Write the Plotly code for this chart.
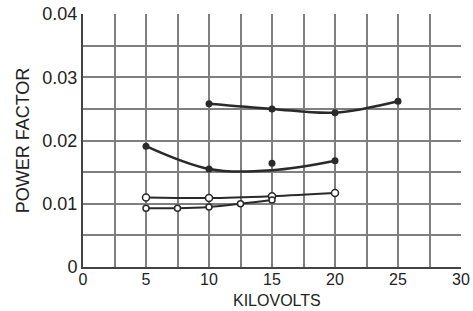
import plotly.graph_objects as go

# ---- data ----
x_top = [10, 15, 20, 25]
y_top = [0.0258, 0.0250, 0.0244, 0.0262]

x_mid_curve = [5, 10, 15, 20]
y_mid_curve = [0.0191, 0.0155, 0.0153, 0.0168]
x_mid_pts = [5, 10, 15, 20]
y_mid_pts = [0.0191, 0.0155, 0.0164, 0.0168]

x_open_a = [5, 10, 15, 20]
y_open_a = [0.0110, 0.0109, 0.0112, 0.0117]

x_open_b = [5, 7.5, 10, 12.5, 15]
y_open_b = [0.0093, 0.0093, 0.0095, 0.0100, 0.0106]

x_ticks = [0, 2.5, 5, 7.5, 10, 12.5, 15, 17.5, 20, 22.5, 25, 27.5, 30]
x_labels = ["0", "", "5", "", "10", "", "15", "", "20", "", "25", "", "30"]
y_ticks = [0, 0.005, 0.01, 0.015, 0.02, 0.025, 0.03, 0.035, 0.04]
y_labels = ["0", "", "0.01", "", "0.02", "", "0.03", "", "0.04"]

ink = "#2a2a2a"
grid = "#7f7f7f"

fig = go.Figure()
fig.add_trace(go.Scatter(x=x_top, y=y_top, mode="lines+markers", line=dict(color=ink, width=2.5, shape="spline"),
                         marker=dict(size=7, color=ink)))
fig.add_trace(go.Scatter(x=x_mid_curve, y=y_mid_curve, mode="lines", line=dict(color=ink, width=2.5, shape="spline")))
fig.add_trace(go.Scatter(x=x_mid_pts, y=y_mid_pts, mode="markers", marker=dict(size=7, color=ink)))
fig.add_trace(go.Scatter(x=x_open_a, y=y_open_a, mode="lines+markers", line=dict(color=ink, width=2, shape="spline"),
                         marker=dict(size=7, color="white", line=dict(color=ink, width=1.5))))
fig.add_trace(go.Scatter(x=x_open_b, y=y_open_b, mode="lines+markers", line=dict(color=ink, width=2, shape="spline"),
                         marker=dict(size=6, color="white", line=dict(color=ink, width=1.5))))

fig.update_layout(
    width=473, height=311,
    margin=dict(l=83, r=12, t=14, b=44),
    paper_bgcolor="white", plot_bgcolor="white",
    showlegend=False,
    font=dict(family="Liberation Sans, Arial, sans-serif", color="#222", size=17),
    annotations=[dict(text="KILOVOLTS", xref="paper", yref="paper", x=0.513, y=0, yshift=-33,
                      xanchor="center", yanchor="middle", showarrow=False, borderpad=0,
                      font=dict(size=16))],
)
fig.update_xaxes(range=[0, 30], tickvals=x_ticks, ticktext=x_labels, showgrid=True, gridcolor=grid, gridwidth=1.6,
                 showline=True, linecolor="#444", linewidth=2, mirror=False, ticks="", zeroline=False,
                 automargin=False, tickfont=dict(size=16), ticklabelstandoff=-3)
fig.update_yaxes(range=[0, 0.04], tickvals=y_ticks, ticktext=y_labels, showgrid=True, gridcolor=grid, gridwidth=1.6,
                 showline=True, linecolor="#444", linewidth=2, ticks="", zeroline=False,
                 automargin=False, tickfont=dict(size=18),
                 title=dict(text="POWER FACTOR", standoff=8, font=dict(size=18)))

fig.write_html("out.html", config={"displayModeBar": False},
               post_script="document.body.style.margin='0';document.body.style.overflow='hidden';")
